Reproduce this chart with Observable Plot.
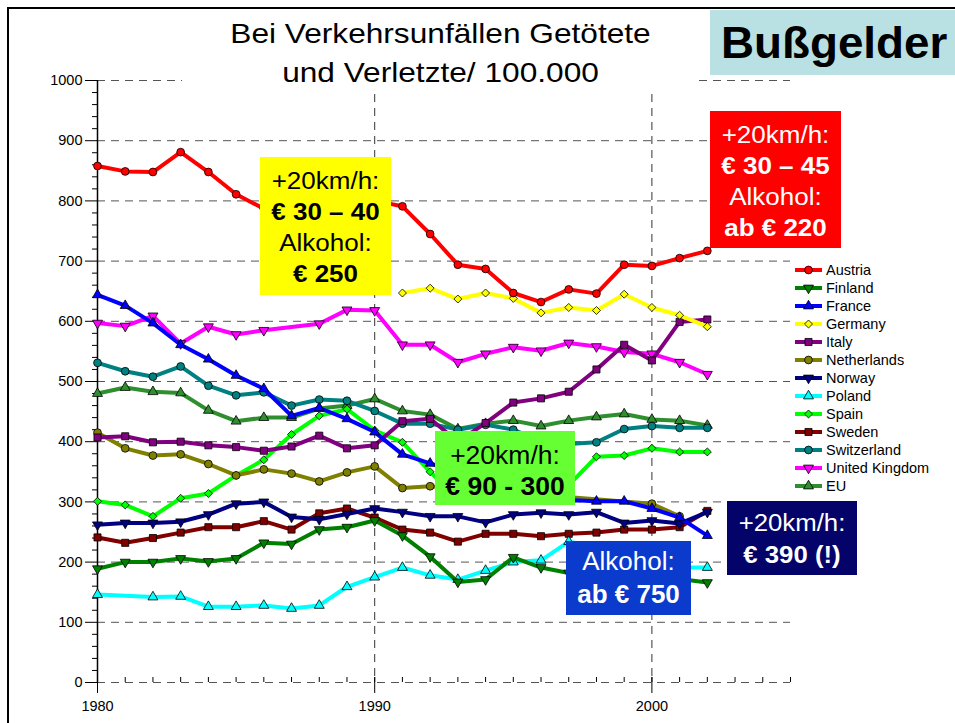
<!DOCTYPE html>
<html><head><meta charset="utf-8">
<script src="https://cdn.jsdelivr.net/npm/d3@7"></script>
<script src="https://cdn.jsdelivr.net/npm/@observablehq/plot@0.6"></script>
<style>
body{margin:0;background:#fff;font-family:"Liberation Sans",Arial,sans-serif;}
#wrap{position:relative;width:955px;height:723px;overflow:hidden;background:#fff;}
#frame{position:absolute;left:7px;top:7px;width:1100px;height:900px;border:2.5px solid #000;box-sizing:border-box;}
#chart{position:absolute;left:0;top:0;}
.box{position:absolute;text-align:center;box-sizing:border-box;}
.box div{white-space:nowrap;}
.b{font-weight:bold;}
#title{position:absolute;left:182px;top:10px;width:517px;height:83px;background:#fff;text-align:center;font-size:28px;line-height:39px;padding-top:4px;box-sizing:border-box;color:#000;}
#title div{transform:scaleX(1.13);white-space:nowrap;}
#buss{position:absolute;left:710px;top:10px;width:245px;height:65px;background:#b9e0e3;font-weight:bold;font-size:44px;line-height:65px;padding-left:11px;box-sizing:border-box;white-space:nowrap;}
#buss span{display:inline-block;transform:scaleX(1.04);transform-origin:left center;}
#legend{position:absolute;left:795px;top:0;}
.lrow{position:absolute;left:0;height:18px;line-height:18px;font-size:14.5px;white-space:nowrap;color:#000;}
.lrow svg{position:absolute;left:0;top:2px;}
.lrow span{position:absolute;left:31px;top:0;}
</style></head><body>
<div id="wrap">
  <div id="frame"></div>
  <div id="chart"></div>
  <div id="title"><div>Bei Verkehrsunfällen Getötete</div><div>und Verletzte/ 100.000</div></div>
  <div id="buss"><span>Bußgelder</span></div>
  <div id="legend"></div>
</div>
<script>
// ---- data ----
const years = [1980,1981,1982,1983,1984,1985,1986,1987,1988,1989,1990,1991,1992,1993,1994,1995,1996,1997,1998,1999,2000,2001,2002];
const austria     = [858,849,848,881,848,811,787,780,785,795,800,791,745,694,687,647,632,653,646,694,692,705,717];
const finland     = [189,200,200,206,201,206,232,230,254,258,269,244,209,167,171,208,191,182,180,178,176,172,166];
const france      = [644,626,597,561,537,510,488,443,456,438,416,379,364,350,335,320,310,303,301,301,289,274,244];
const germany     = [null,null,null,null,null,null,null,null,null,null,null,647,655,637,647,638,614,623,618,645,623,610,591];
const italy       = [407,409,399,400,394,391,385,392,410,389,394,434,438,400,431,465,472,483,520,561,535,599,603];
const netherlands = [415,389,377,379,363,344,354,347,334,349,359,323,326,null,null,null,null,null,null,null,297,276,null];
const norway      = [262,265,265,267,279,297,300,275,271,280,289,283,276,276,266,279,282,279,283,265,269,264,283];
const poland      = [146,null,142,143,126,126,128,123,128,159,175,191,178,171,186,200,203,234,225,210,195,191,191];
const spain       = [301,295,276,306,314,344,370,412,443,454,419,399,350,305,310,318,322,328,375,377,389,383,383];
const sweden      = [241,232,240,249,258,258,268,254,281,289,274,254,249,234,247,247,243,247,249,254,254,258,285];
const switzerland = [531,517,508,525,493,477,482,460,470,468,451,430,430,420,428,420,400,396,399,421,426,423,423];
const uk          = [597,592,609,563,591,578,585,null,596,619,618,561,561,532,546,557,551,564,558,549,546,532,512];
const eu          = [480,490,483,481,452,434,440,440,455,460,471,451,445,421,430,435,426,435,441,446,437,435,427];

const seriesNames = ["Austria","Finland","France","Germany","Italy","Netherlands","Norway","Poland","Spain","Sweden","Switzerland","United Kingdom","EU"];
const seriesValues = [austria,finland,france,germany,italy,netherlands,norway,poland,spain,sweden,switzerland,uk,eu];
const seriesColors = ["#ff0000","#008000","#0000ff","#ffff00","#800080","#808000","#000080","#00ffff","#00ff00","#800000","#008080","#ff00ff","#2f8f2f"];
const seriesSymbols = ["circle","tridown","triangle","diamond","square","circle","tridown","triangle","diamond","square","circle","tridown","triangle"];

const yMajor = [0,100,200,300,400,500,600,700,800,900,1000];
const yMinor = [20,40,60,80,120,140,160,180,220,240,260,280,320,340,360,380,420,440,460,480,520,540,560,580,620,640,660,680,720,740,760,780,820,840,860,880,920,940,960,980];
const xLabels = [1980,1990,2000];
const xMinor = [1980,1981,1982,1983,1984,1985,1986,1987,1988,1989,1990,1991,1992,1993,1994,1995,1996,1997,1998,1999,2000,2001,2002,2003,2004,2005];
const xGrid = [1990,2000];

// ---- symbols ----
const triDown = {draw(ctx, size){ const y = -Math.sqrt(size/(Math.sqrt(3)*3)); const s3=Math.sqrt(3);
  ctx.moveTo(0,-2*y); ctx.lineTo(-s3*y, y); ctx.lineTo(s3*y, y); ctx.closePath(); }};
const symMap = {circle:d3.symbolCircle, triangle:d3.symbolTriangle, tridown:triDown, diamond:d3.symbolDiamond2, square:d3.symbolSquare};
const symR = {circle:3.9, triangle:3.7, tridown:3.7, diamond:3.6, square:4.0};

// ---- chart ----
const marks = [
  Plot.ruleY(yMajor, {stroke:"#555", strokeDasharray:"8,6", strokeWidth:1}),
  Plot.ruleX(xGrid, {stroke:"#333", strokeDasharray:"8,6", strokeWidth:1}),
  Plot.ruleX([1980], {stroke:"#000", strokeWidth:1.5}),
  Plot.axisY(yMajor, {tickSize:12, tickPadding:3, tickFormat:d=>String(d), label:null, fontSize:14.5, fill:"#000"}),
  Plot.axisY(yMinor, {tickSize:5, tickFormat:()=>"", label:null}),
  Plot.axisX(xMinor, {tickSize:5, dy:-5, tickFormat:()=>"", label:null}),
  Plot.axisX(xLabels, {tickSize:16, dy:-5, tickPadding:7, tickFormat:d=>String(d), label:null, fontSize:14.5, fill:"#000"})
];
for (let i = seriesNames.length - 1; i >= 0; i--) {
  const data = years.map((yr, j) => ({year: yr, v: seriesValues[i][j]})).filter(d => d.v != null);
  marks.push(Plot.line(data, {x:"year", y:"v", stroke:seriesColors[i], strokeWidth:4, strokeLinejoin:"round"}));
  marks.push(Plot.dot(data, {x:"year", y:"v", symbol:symMap[seriesSymbols[i]], r:symR[seriesSymbols[i]], fill:seriesColors[i], stroke:"#000", strokeWidth:0.8}));
}
const chart = Plot.plot({
  width:955, height:723,
  marginLeft:97, marginRight:165, marginTop:80, marginBottom:41,
  x:{domain:[1980,2005]},
  y:{domain:[0,1000]},
  style:{fontFamily:"'Liberation Sans', Arial, sans-serif", fontSize:"14px", background:"transparent", overflow:"visible", color:"#000"},
  marks
});
document.getElementById("chart").appendChild(chart);

// ---- legend ----
const legend = document.getElementById("legend");
seriesNames.forEach((name, i) => {
  const row = document.createElement("div");
  row.className = "lrow";
  row.style.top = (260.5 + i*18.06) + "px";
  const sym = symMap[seriesSymbols[i]];
  const r = symR[seriesSymbols[i]];
  const path = d3.symbol(sym, Math.PI*r*r)();
  row.innerHTML = `<svg width="28" height="14"><line x1="0" x2="27" y1="7" y2="7" stroke="${seriesColors[i]}" stroke-width="4"/><path transform="translate(13.5,7)" d="${path}" fill="${seriesColors[i]}" stroke="#000" stroke-width="0.8"/></svg><span>${name}</span>`;
  legend.appendChild(row);
});

// ---- annotation boxes ----
const boxes = [
  {x:260, y:157, w:131, h:138, bg:"#ffff00", color:"#000", fs:23, lh:31, pad:9, sx:1.13, lines:[["+20km/h:",0],["€ 30 – 40",1],["Alkohol:",0],["€ 250",1]]},
  {x:710, y:111, w:131, h:137, bg:"#ff0000", color:"#fff", fs:23, lh:31, pad:8.5, sx:1.13, lines:[["+20km/h:",0],["€ 30 – 45",1],["Alkohol:",0],["ab € 220",1]]},
  {x:435, y:431, w:140, h:74, bg:"#66ff33", color:"#000", fs:25, lh:31, pad:8.5, sx:1.06, lines:[["+20km/h:",0],["€ 90 - 300",1]]},
  {x:566, y:541, w:125, h:74, bg:"#0a3bcc", color:"#fff", fs:26, lh:33, pad:4, sx:1.0, lines:[["Alkohol:",0],["ab € 750",1]]},
  {x:727, y:501, w:130, h:74, bg:"#03036a", color:"#fff", fs:23, lh:32, pad:6, sx:1.12, lines:[["+20km/h:",0],["€ 390 (!)",1]]}
];
const wrap = document.getElementById("wrap");
boxes.forEach(b => {
  const d = document.createElement("div");
  d.className = "box";
  Object.assign(d.style, {left:b.x+"px", top:b.y+"px", width:b.w+"px", height:b.h+"px", background:b.bg, color:b.color,
    fontSize:b.fs+"px", lineHeight:b.lh+"px", paddingTop:b.pad+"px"});
  b.lines.forEach(([t, bold]) => {
    const l = document.createElement("div");
    l.textContent = t;
    if (bold) l.className = "b";
    l.style.transform = `scaleX(${b.sx})`;
    d.appendChild(l);
  });
  wrap.appendChild(d);
});
</script>
</body></html>
